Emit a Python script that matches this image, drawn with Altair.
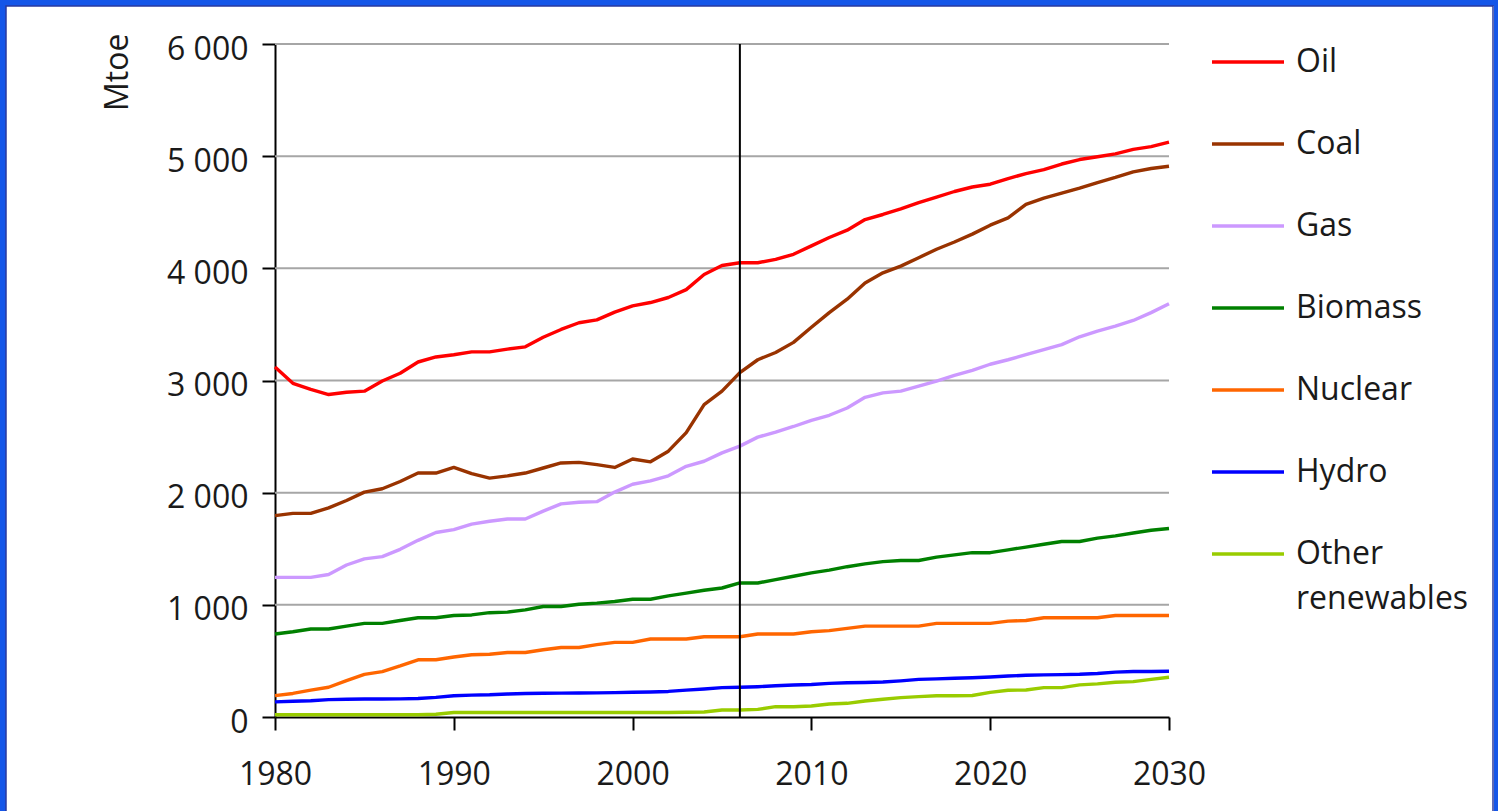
import altair as alt
import pandas as pd

# ---------------- data ----------------
years = list(range(1980, 2031))
series_names = ["Oil", "Coal", "Gas", "Biomass", "Nuclear", "Hydro", "Other renewables"]
series_colors = ["#ff0000", "#993300", "#cc99ff", "#008000", "#ff6600", "#0000ff", "#99cc00"]
series_widths = [3.4, 3.4, 3.4, 3.6, 3.4, 1.8, 4.2]

oil = [3120, 2975, 2920, 2875, 2895, 2905, 2995, 3065, 3165, 3210,
       3230, 3255, 3255, 3280, 3300, 3385, 3455, 3515, 3540, 3610,
       3665, 3695, 3740, 3810, 3945, 4025, 4050, 4050, 4080, 4125,
       4200, 4275, 4340, 4435, 4480, 4530, 4585, 4635, 4685, 4725,
       4750, 4800, 4845, 4880, 4930, 4970, 4995, 5020, 5060, 5085, 5125]
coal = [1795, 1815, 1815, 1865, 1930, 2005, 2035, 2100, 2175, 2175,
        2225, 2170, 2130, 2150, 2175, 2220, 2265, 2270, 2250, 2225,
        2300, 2275, 2370, 2535, 2785, 2905, 3070, 3185, 3250, 3340,
        3475, 3605, 3725, 3870, 3960, 4020, 4095, 4170, 4235, 4305,
        4385, 4450, 4570, 4625, 4670, 4715, 4765, 4810, 4860, 4890, 4910]
gas = [1245, 1245, 1245, 1270, 1355, 1410, 1430, 1495, 1575, 1645,
       1670, 1720, 1745, 1765, 1765, 1835, 1900, 1915, 1920, 2005,
       2075, 2105, 2150, 2235, 2280, 2355, 2415, 2495, 2540, 2590,
       2645, 2690, 2755, 2850, 2890, 2905, 2950, 2995, 3045, 3090,
       3145, 3185, 3230, 3275, 3320, 3390, 3440, 3485, 3535, 3605, 3685]
biomass = [740, 760, 785, 785, 810, 835, 835, 860, 885, 885,
           905, 910, 930, 935, 955, 985, 985, 1005, 1015, 1030,
           1050, 1050, 1080, 1105, 1130, 1150, 1195, 1195, 1225, 1255,
           1285, 1310, 1340, 1365, 1385, 1395, 1395, 1425, 1445, 1465,
           1465, 1490, 1515, 1540, 1565, 1565, 1595, 1615, 1640, 1665, 1680]
nuclear = [190, 210, 240, 265, 325, 380, 405, 455, 510, 510,
           535, 555, 560, 575, 575, 600, 620, 620, 645, 665,
           665, 695, 695, 695, 715, 715, 715, 740, 740, 740,
           760, 770, 790, 810, 810, 810, 810, 835, 835, 835,
           835, 855, 860, 885, 885, 885, 885, 905, 905, 905, 905]
hydro = [135, 140, 145, 155, 158, 160, 160, 162, 165, 175,
         190, 195, 198, 205, 210, 212, 213, 214, 215, 217,
         220, 223, 228, 240, 250, 262, 265, 270, 278, 285,
         290, 300, 305, 308, 312, 322, 335, 340, 345, 350,
         356, 365, 372, 376, 378, 381, 388, 400, 405, 405, 408]
other_renewables = [20, 20, 20, 20, 20, 20, 20, 20, 20, 25,
                    40, 40, 40, 40, 40, 40, 40, 40, 40, 40,
                    40, 40, 40, 42, 45, 62, 63, 68, 92, 92,
                    98, 116, 122, 143, 158, 173, 182, 190, 190, 192,
                    220, 238, 241, 262, 262, 286, 295, 310, 315, 336, 354]

x_ticks = [1980, 1990, 2000, 2010, 2020, 2030]
y_ticks = [0, 1000, 2000, 3000, 4000, 5000, 6000]
grid_values = [1000, 2000, 3000, 4000, 5000, 6000]
base_year = [2006]

rows = []
for name, vals in zip(series_names, [oil, coal, gas, biomass, nuclear, hydro, other_renewables]):
    for yr, v in zip(years, vals):
        rows.append({"year": yr, "value": v, "series": name})
df = pd.DataFrame(rows)

# ---------------- layout ----------------
TOTAL_W, TOTAL_H = 1498, 811
L, T = 275, 44
W, H = 894, 673
FONT = "Open Sans"
TXT = "#1a1a1a"

x_scale = alt.Scale(domain=[1980, 2030], nice=False, zero=False)
y_scale = alt.Scale(domain=[0, 6000], nice=False, zero=True)

x_axis = alt.Axis(values=x_ticks, format="d", title=None, grid=False,
                  tickSize=13, tickColor="black", tickWidth=2,
                  domainColor="black", domainWidth=2,
                  labelFont=FONT, labelFontSize=32, labelColor=TXT,
                  labelPadding=29, labelFlush=False, labelOverlap=False)
y_axis = alt.Axis(values=y_ticks, title="Mtoe", grid=False,
                  tickSize=13, tickColor="black", tickWidth=2,
                  domainColor="black", domainWidth=2,
                  labelFont=FONT, labelFontSize=32, labelColor=TXT,
                  labelPadding=14, labelOffset=5, labelFlush=False,
                  labelExpr="replace(format(datum.value, ','), ',', ' ')",
                  titleFont=FONT, titleFontSize=32, titleFontWeight="normal",
                  titleColor=TXT, titleAngle=270, titleAlign="right",
                  titleBaseline="middle", titleX=-158, titleY=-11)

grid = alt.Chart(pd.DataFrame({"value": grid_values})).mark_rule(
    color="#a6a6a6", strokeWidth=2
).encode(y=alt.Y("value:Q", scale=y_scale, axis=y_axis))

legend = alt.Legend(
    title=None, orient="none", legendX=935, legendY=-20, direction="vertical",
    symbolType="stroke", symbolSize=5184, symbolStrokeWidth=3.4,
    labelFont=FONT, labelFontSize=32, labelColor=TXT, labelOffset=10,
    labelLimit=400, rowPadding=28, padding=0,
    labelExpr="datum.label == 'Other renewables' ? ['Other', 'renewables'] : datum.label",
)

lines = alt.Chart(df).mark_line(strokeJoin="round").encode(
    x=alt.X("year:Q", scale=x_scale, axis=x_axis),
    y=alt.Y("value:Q", scale=y_scale, axis=y_axis),
    color=alt.Color("series:N", sort=series_names,
                    scale=alt.Scale(domain=series_names, range=series_colors),
                    legend=legend),
    strokeWidth=alt.StrokeWidth("series:N",
                                scale=alt.Scale(domain=series_names, range=series_widths),
                                legend=None),
)

vline = alt.Chart(pd.DataFrame({"year": base_year})).mark_rule(
    color="black", strokeWidth=2
).encode(x=alt.X("year:Q", scale=x_scale, axis=x_axis))

frame_df = pd.DataFrame({"k": [0]})
frame = alt.Chart(frame_df).mark_rect(
    fillOpacity=0, stroke="#1556e8", strokeWidth=12
).encode(
    x=alt.value(-L), x2=alt.value(TOTAL_W - L + 2),
    y=alt.value(-T), y2=alt.value(TOTAL_H - T + 40),
)
inner = alt.Chart(frame_df).mark_rect(
    fillOpacity=0, stroke="#2a3a9e", strokeWidth=1.5
).encode(
    x=alt.value(-L + 6), x2=alt.value(TOTAL_W - L - 5),
    y=alt.value(-T + 6), y2=alt.value(TOTAL_H - T + 40),
)

chart = alt.layer(grid, lines, vline, frame, inner).properties(
    width=W, height=H,
    autosize=alt.AutoSizeParams(type="none"),
    padding={"left": L, "top": T, "right": TOTAL_W - L - W, "bottom": TOTAL_H - T - H},
    background="white",
).configure(
    view=alt.ViewConfig(stroke="transparent"),
    style={"guide-label": {"lineHeight": 45}},
)

chart.save("out.html", embed_options={"renderer": "svg", "actions": False})
